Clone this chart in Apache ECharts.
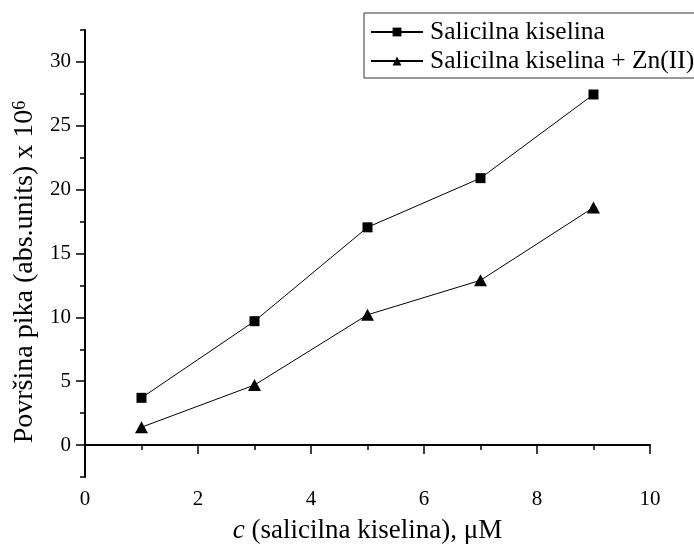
<!DOCTYPE html>
<html><head><meta charset="utf-8">
<script src="https://cdn.jsdelivr.net/npm/echarts@6/dist/echarts.min.js"></script>
<style>html,body{margin:0;padding:0;background:#fff}#c{width:694px;height:549px}</style>
</head><body><div id="c"></div>
<script>
const xValues = [1, 3, 5, 7, 9];
const salicilna = [3.7, 9.7, 17.05, 20.9, 27.45];
const salicilnaZn = [1.4, 4.7, 10.2, 12.9, 18.6];
const yTickValues = [0, 5, 10, 15, 20, 25, 30];
const seriesNames = ['Salicilna kiselina', 'Salicilna kiselina + Zn(II)'];

const FONT = '"Liberation Serif","Times New Roman",serif';
const BLACK = '#000';

const chart = echarts.init(document.getElementById('c'));
chart.setOption({
  backgroundColor: '#fff',
  animation: false,
  grid: { left: 85, right: 44, top: 30, bottom: 64 },
  legend: {
    data: seriesNames,
    orient: 'vertical',
    left: 364, top: 13,
    padding: [6, 10, 4, 6],
    borderColor: '#333', borderWidth: 1,
    itemWidth: 52, itemHeight: 11, itemGap: 3,
    textStyle: { fontFamily: FONT, fontSize: 25.5, color: BLACK, lineHeight: 25, padding: [0, 0, 0, 2] }
  },
  xAxis: {
    type: 'value', min: 0, max: 10, interval: 2,
    axisLine: { lineStyle: { color: BLACK, width: 2 } },
    axisTick: { length: 9, lineStyle: { color: BLACK, width: 1.5 } },
    minorTick: { show: true, splitNumber: 2, length: 5, lineStyle: { color: BLACK, width: 1.5 } },
    splitLine: { show: false },
    axisLabel: { fontFamily: FONT, fontSize: 21, color: BLACK, margin: 12 },
    name: '{i|c} (salicilna kiselina), μM',
    nameLocation: 'middle', nameGap: 40,
    nameTextStyle: { fontFamily: FONT, fontSize: 27, color: BLACK,
      rich: { i: { fontFamily: FONT, fontSize: 27, fontStyle: 'italic', color: BLACK } } }
  },
  yAxis: [{
    type: 'value', min: -2.5, max: 32.5, position: 'left',
    axisLine: { show: true, lineStyle: { color: BLACK, width: 2 } },
    axisTick: { show: true, customValues: yTickValues, length: 9, lineStyle: { color: BLACK, width: 1.5 } },
    axisLabel: { customValues: yTickValues, fontFamily: FONT, fontSize: 21, color: BLACK, margin: 14 },
    splitLine: { show: false },
    name: 'Površina pika (abs.units) x 10{sup|6}',
    nameLocation: 'middle', nameGap: 36,
    nameTextStyle: { fontFamily: FONT, fontSize: 28, color: BLACK, padding: [0, 37, 0, 0],
      rich: { sup: { fontFamily: FONT, fontSize: 18, color: BLACK, verticalAlign: 'top' } } }
  }, {
    type: 'value', min: -2.5, max: 32.5, interval: 2.5, position: 'left',
    axisLine: { show: false },
    axisTick: { show: true, length: 5, lineStyle: { color: BLACK, width: 1.5 } },
    axisLabel: { show: false },
    splitLine: { show: false }
  }],
  series: [{
    name: seriesNames[0], type: 'line', yAxisIndex: 0,
    data: xValues.map((x, i) => [x, salicilna[i]]),
    symbol: 'rect', symbolSize: 10,
    lineStyle: { color: BLACK, width: 1 }, itemStyle: { color: BLACK }
  }, {
    name: seriesNames[1], type: 'line', yAxisIndex: 0,
    data: xValues.map((x, i) => [x, salicilnaZn[i]]),
    symbol: 'triangle', symbolSize: [13, 12],
    lineStyle: { color: BLACK, width: 1 }, itemStyle: { color: BLACK }
  }]
});
</script></body></html>
